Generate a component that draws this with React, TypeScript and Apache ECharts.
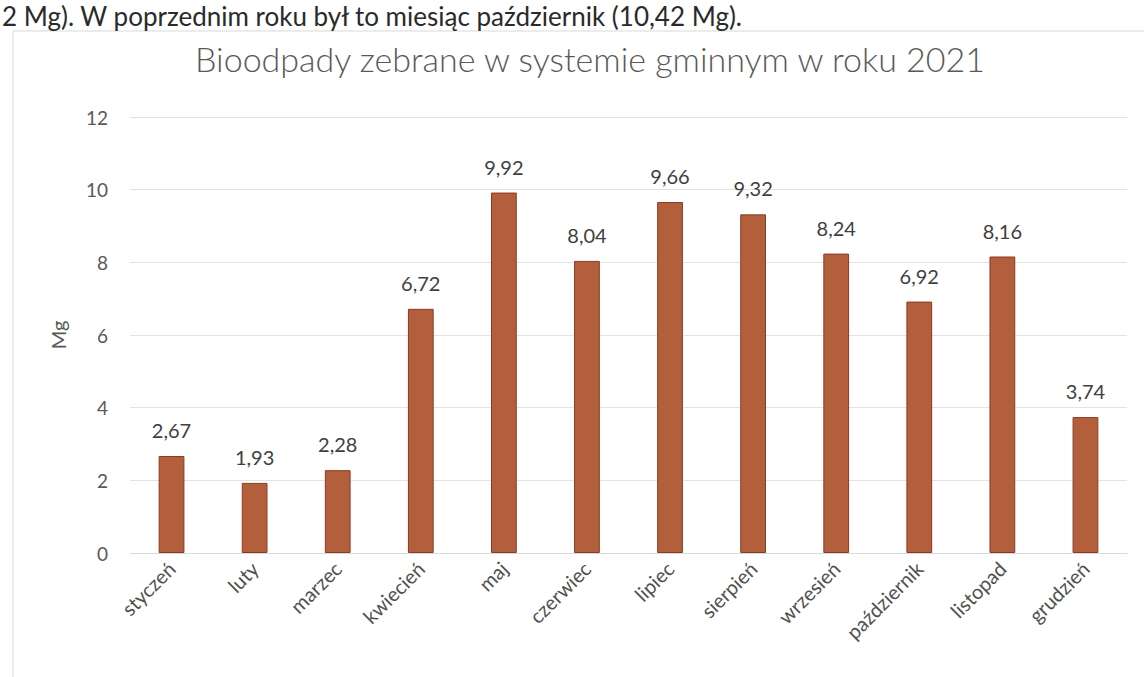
import React, { useEffect, useRef } from "react";
import * as echarts from "echarts";

const months = ["styczeń", "luty", "marzec", "kwiecień", "maj", "czerwiec", "lipiec", "sierpień", "wrzesień", "październik", "listopad", "grudzień"];
const values = [2.67, 1.93, 2.28, 6.72, 9.92, 8.04, 9.66, 9.32, 8.24, 6.92, 8.16, 3.74];
const yTicks = [0, 2, 4, 6, 8, 10, 12];
const titleText = "Bioodpady zebrane w systemie gminnym w roku 2021";
const yName = "Mg";
const topText = "2 Mg). W poprzednim roku był to miesiąc październik (10,42 Mg).";

const FONT = "Lato, 'Open Sans', sans-serif";

export default function App() {
  const ref = useRef<HTMLDivElement>(null);
  useEffect(() => {
    document.body.style.margin = "0";
    const chart = echarts.init(ref.current!, null, { renderer: "svg" });
    chart.setOption({
      animation: false,
      backgroundColor: "#ffffff",
      textStyle: { fontFamily: FONT },
      title: {
        text: titleText,
        left: 585,
        textAlign: "center",
        top: 36,
        textStyle: { fontFamily: FONT, fontSize: 34, fontWeight: 300, color: "#595959" },
      },
      graphic: [
        {
          type: "rect",
          shape: { x: 13, y: 31, width: 1200, height: 700 },
          style: { fill: "none", stroke: "#d9d9d9", lineWidth: 1 },
          silent: true,
        },
        {
          type: "text",
          x: 2,
          y: 3,
          style: { text: topText, fontFamily: FONT, fontSize: 26, fontWeight: 400, fill: "#2a2a2a" },
          silent: true,
        },
      ],
      grid: { left: 130, right: 17, top: 117, bottom: 124, containLabel: false },
      xAxis: {
        type: "category",
        data: months,
        axisTick: { show: false },
        axisLine: { show: true, lineStyle: { color: "#d9d9d9" } },
        axisLabel: { rotate: 45, fontSize: 20, color: "#505050", fontFamily: FONT, margin: 12, interval: 0 },
      },
      yAxis: {
        type: "value",
        min: yTicks[0],
        max: yTicks[yTicks.length - 1],
        interval: 2,
        name: yName,
        nameLocation: "middle",
        nameGap: 62,
        nameRotate: 90,
        nameTextStyle: { fontSize: 20, color: "#595959", fontFamily: FONT },
        axisLine: { show: false },
        axisTick: { show: false },
        axisLabel: { fontSize: 19, color: "#595959", fontFamily: FONT, margin: 22 },
        splitLine: { lineStyle: { color: "#e3e3e3" } },
      },
      series: [
        {
          type: "bar",
          data: values,
          barWidth: "31%",
          itemStyle: { color: "#b35f3c", borderColor: "#8a3a22", borderWidth: 1 },
          label: {
            show: true,
            position: "top",
            distance: 16,
            fontSize: 20,
            color: "#404040",
            fontFamily: FONT,
            formatter: (p: any) => p.value.toFixed(2).replace(".", ","),
          },
        },
      ],
    });
    return () => chart.dispose();
  }, []);
  return <div ref={ref} style={{ width: 1144, height: 677, position: "absolute", left: 0, top: 0 }} />;
}
